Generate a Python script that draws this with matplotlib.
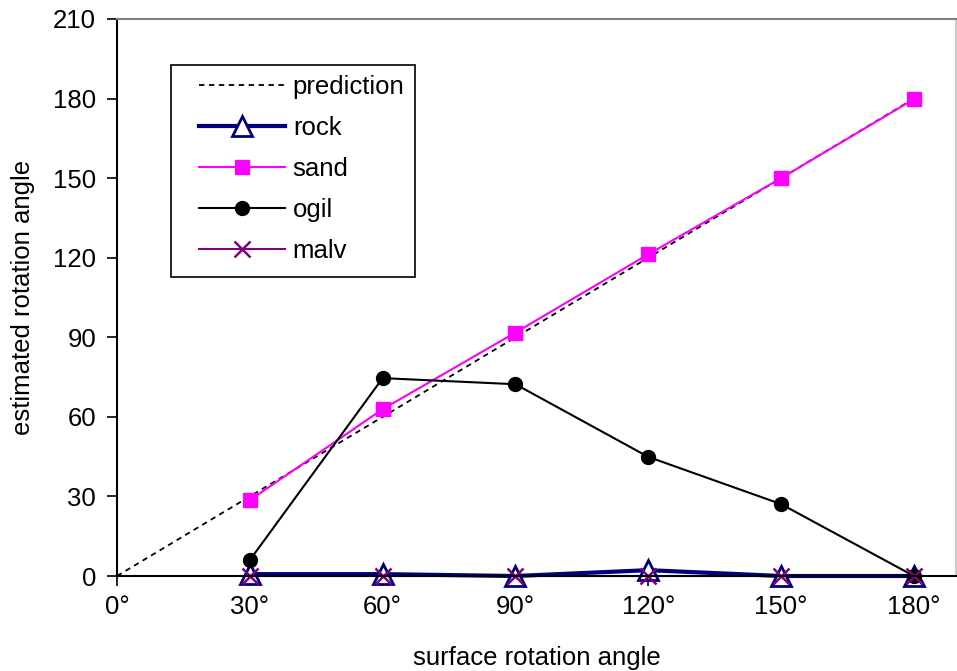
import matplotlib
matplotlib.use("Agg")
import matplotlib.pyplot as plt
from matplotlib.patches import Rectangle

plt.rcParams['font.family'] = ['Liberation Sans', 'DejaVu Sans']

angles = [30, 60, 90, 120, 150, 180]
prediction_x = [0, 180]
prediction_y = [0, 180]
rock = [0.7, 0.7, 0.0, 2.2, 0.0, 0.0]
sand = [28.6, 62.9, 91.8, 121.3, 150.0, 179.8]
ogil = [6.0, 74.6, 72.3, 44.9, 27.1, 0.0]
malv = [0.0, 0.0, 0.0, 0.0, 0.0, 0.0]

x_ticks = [0, 30, 60, 90, 120, 150, 180]
x_tick_labels = ["0°", "30°", "60°", "90°", "120°", "150°", "180°"]
y_ticks = [0, 30, 60, 90, 120, 150, 180, 210]

FS = 18.5

fig = plt.figure(figsize=(9.57, 6.71), dpi=100)
ax = fig.add_axes([117 / 957, 1 - 576 / 671, 839 / 957, 557 / 671])

ax.plot(prediction_x, prediction_y, color='black', linestyle=(0, (3, 2.5)),
        linewidth=1.3, label='prediction')
ax.plot(angles, rock, color='#000080', linewidth=3, marker='^', markersize=15,
        markerfacecolor='white', markeredgecolor='#000080', markeredgewidth=2,
        label='rock', clip_on=False)
ax.plot(angles, sand, color='#FF00FF', linewidth=1.5, marker='s', markersize=10,
        markerfacecolor='#FF00FF', markeredgecolor='#FF00FF', label='sand',
        clip_on=False)
ax.plot(angles, ogil, color='black', linewidth=1.5, marker='o', markersize=10,
        label='ogil', clip_on=False)
ax.plot(angles, malv, color='#800080', linewidth=1.5, marker='x', markersize=11,
        markeredgewidth=1.8, label='malv', clip_on=False)

ax.set_xlim(0, 189.5)
ax.set_ylim(0, 210)
ax.set_xticks(x_ticks)
ax.set_xticklabels(x_tick_labels)
ax.set_yticks(y_ticks)
ax.tick_params(axis='y', direction='out', length=7, width=1.2,
               labelsize=FS, pad=8, colors='black')
ax.tick_params(axis='x', direction='out', length=7, width=1.2,
               labelsize=FS, pad=7, colors='black')

for side in ('left', 'bottom'):
    ax.spines[side].set_color('black')
    ax.spines[side].set_linewidth(1.5)
ax.spines['top'].set_color('#808080')
ax.spines['top'].set_linewidth(1.5)
ax.spines['right'].set_color('#c0c0c0')
ax.spines['right'].set_linewidth(1.2)

ax.set_xlabel('surface rotation angle', fontsize=FS, labelpad=19)
ax.set_ylabel('estimated rotation angle', fontsize=FS, labelpad=13)

# legend frame drawn separately so the inner padding can be uneven
x0, x1 = (171 - 117) / 839, (415 - 117) / 839
y0, y1 = (576 - 277) / 557, (576 - 65) / 557
ax.add_patch(Rectangle((x0, y0), x1 - x0, y1 - y0, transform=ax.transAxes,
                       facecolor='white', edgecolor='black', linewidth=1.2,
                       zorder=4))
leg = ax.legend(loc='upper left', bbox_to_anchor=((199 - 117) / 839, (576 - 75) / 557),
                borderaxespad=0, fontsize=FS, frameon=False,
                handlelength=3.35, handletextpad=0.3,
                labelspacing=0.66, borderpad=0)
leg.set_zorder(5)

fig.savefig('out.png', dpi=100)
